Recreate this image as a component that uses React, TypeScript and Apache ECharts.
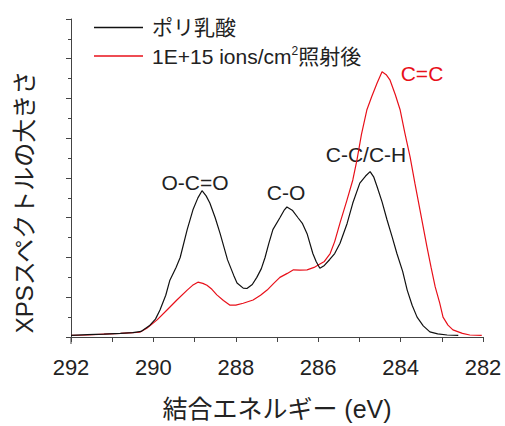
import React, { useEffect, useRef } from "react";
import * as echarts from "echarts";

const xTicks = [292, 290, 288, 286, 284, 282];

const blackEnergy = [
  292.0, 291.6, 291.2, 290.8, 290.5, 290.3, 290.1, 289.95, 289.84, 289.7, 289.6, 289.45, 289.35, 289.18,
  289.04, 288.92, 288.82, 288.72, 288.63, 288.5, 288.38, 288.2, 288.05, 287.97, 287.82, 287.73, 287.6,
  287.49, 287.38, 287.29, 287.2, 287.1, 286.93, 286.82, 286.76, 286.62, 286.49, 286.38, 286.27, 286.13,
  286.05, 285.96, 285.85, 285.72, 285.6, 285.47, 285.3, 285.16, 284.99, 284.85, 284.74, 284.65, 284.57,
  284.45, 284.33, 284.2, 284.09, 283.95, 283.84, 283.72, 283.6, 283.45, 283.29, 283.1, 282.87, 282.6,
];
const blackIntensity = [
  0.04, 0.06, 0.07, 0.09, 0.11, 0.14, 0.28, 0.45, 0.68, 1.05, 1.43, 1.75, 2.0, 2.7,
  3.2, 3.5, 3.68, 3.55, 3.37, 3.0, 2.6, 1.94, 1.55, 1.36, 1.23, 1.22, 1.32,
  1.5, 1.72, 2.0, 2.35, 2.7, 3.0, 3.2, 3.27, 3.18, 3.0, 2.85, 2.6, 2.1,
  1.9, 1.73, 1.8, 1.95, 2.1, 2.36, 2.85, 3.37, 3.87, 4.05, 4.16, 4.02, 3.78,
  3.4, 2.95, 2.5, 2.1, 1.65, 1.18, 0.8, 0.5, 0.28, 0.13, 0.08, 0.05, 0.04,
];

const redEnergy = [
  292.0, 291.6, 291.2, 290.8, 290.5, 290.33, 290.16, 289.91, 289.67, 289.43, 289.18, 289.05, 288.92,
  288.8, 288.7, 288.58, 288.46, 288.3, 288.14, 288.0, 287.82, 287.58, 287.4, 287.24, 287.08, 286.93,
  286.75, 286.6, 286.45, 286.27, 286.1, 286.0, 285.85, 285.71, 285.6, 285.47, 285.3, 285.16, 285.06,
  284.95, 284.82, 284.7, 284.57, 284.45, 284.35, 284.26, 284.13, 284.01, 283.9, 283.77, 283.65, 283.53,
  283.36, 283.26, 283.16, 283.05, 282.97, 282.85, 282.73, 282.5, 282.32, 282.03,
];
const redIntensity = [
  0.04, 0.05, 0.07, 0.09, 0.11, 0.12, 0.22, 0.43, 0.68, 0.93, 1.18, 1.3, 1.38,
  1.35, 1.3, 1.2, 1.06, 0.92, 0.8, 0.8, 0.85, 0.93, 1.05, 1.18, 1.35, 1.5,
  1.6, 1.69, 1.68, 1.69, 1.75, 1.81, 1.9, 2.1, 2.4, 2.87, 3.45, 3.95, 4.45,
  5.1, 5.71, 6.05, 6.39, 6.67, 6.6, 6.47, 6.1, 5.71, 5.15, 4.53, 3.85, 3.2,
  2.27, 1.75, 1.26, 0.85, 0.5, 0.3, 0.18, 0.09, 0.05, 0.04,
];

const seriesNames = ["ポリ乳酸", "1E+15 ions/cm2照射後"];
const peakLabels = ["O-C=O", "C-O", "C-C/C-H", "C=C"];

const FONT = "'Liberation Sans', 'Noto Sans CJK JP', sans-serif";
const BLACK = "#111111";
const RED = "#e8101a";
const AXIS = "#444444";

export default function App() {
  const ref = useRef<HTMLDivElement>(null);
  useEffect(() => {
    document.body.style.margin = "0";
    const chart = echarts.init(ref.current!, null, { renderer: "svg" });
    const zip = (xs: number[], ys: number[]) => xs.map((x, i) => [x, ys[i]]);
    chart.setOption({
      animation: false,
      backgroundColor: "#ffffff",
      textStyle: { fontFamily: FONT },
      grid: { left: 71, right: 22, top: 19, bottom: 89 },
      legend: {
        orient: "vertical",
        left: 89,
        top: 12,
        itemWidth: 49,
        itemHeight: 1.5,
        itemGap: 7,
        icon: "rect",
        data: seriesNames,
        textStyle: {
          fontFamily: FONT,
          fontSize: 21,
          color: "#222",
          padding: [0, 0, 0, 4],
          rich: {
            t: { fontFamily: FONT, fontSize: 21, color: "#222" },
            s: { fontFamily: FONT, fontSize: 12, color: "#222", padding: [0, 0, 10, 0] },
          },
        },
        formatter: (name: string) =>
          name === seriesNames[1] ? "{t|1E+15 ions/cm}{s|2}{t|照射後}" : name,
      },
      xAxis: {
        type: "value",
        min: xTicks[xTicks.length - 1],
        max: xTicks[0],
        interval: 2,
        inverse: true,
        offset: 7,
        name: "結合エネルギー (eV)",
        nameLocation: "middle",
        nameGap: 52,
        nameTextStyle: { fontFamily: FONT, fontSize: 25, color: "#222" },
        axisLine: { show: true, lineStyle: { color: AXIS, width: 1 } },
        axisTick: { show: true, inside: false, length: 5, lineStyle: { color: AXIS } },
        minorTick: { show: true, splitNumber: 2, length: 5, lineStyle: { color: AXIS } },
        splitLine: { show: false },
        minorSplitLine: { show: false },
        axisLabel: { fontFamily: FONT, fontSize: 22, color: "#222", margin: 12 },
      },
      yAxis: {
        type: "value",
        min: 0,
        max: 8,
        interval: 1,
        axisLine: { show: true, lineStyle: { color: AXIS, width: 1 } },
        axisTick: { show: true, inside: false, length: 5, lineStyle: { color: AXIS } },
        minorTick: { show: true, splitNumber: 2, length: 3, lineStyle: { color: AXIS } },
        splitLine: { show: false },
        minorSplitLine: { show: false },
        axisLabel: { show: false },
      },
      graphic: [
        {
          type: "line",
          shape: { x1: 71, y1: 337, x2: 71, y2: 344 },
          style: { stroke: AXIS, lineWidth: 1 },
        },
        {
          type: "text",
          x: 24,
          y: 202,
          rotation: Math.PI / 2,
          style: {
            text: "XPSスペクトルの大きさ",
            fontFamily: FONT,
            fontSize: 24,
            fill: "#222",
            align: "center",
            verticalAlign: "middle",
          },
        },
        {
          type: "text",
          x: 195,
          y: 182,
          style: { text: peakLabels[0], fontFamily: FONT, fontSize: 21, fill: "#222", align: "center", verticalAlign: "middle" },
        },
        {
          type: "text",
          x: 286,
          y: 192,
          style: { text: peakLabels[1], fontFamily: FONT, fontSize: 21, fill: "#222", align: "center", verticalAlign: "middle" },
        },
        {
          type: "text",
          x: 366,
          y: 154,
          style: { text: peakLabels[2], fontFamily: FONT, fontSize: 21, fill: "#222", align: "center", verticalAlign: "middle" },
        },
        {
          type: "text",
          x: 422,
          y: 73,
          style: { text: peakLabels[3], fontFamily: FONT, fontSize: 21, fill: RED, align: "center", verticalAlign: "middle" },
        },
      ],
      series: [
        {
          name: seriesNames[0],
          type: "line",
          data: zip(blackEnergy, blackIntensity),
          showSymbol: false,
          symbol: "none",
          lineStyle: { color: BLACK, width: 1.2 },
          itemStyle: { color: BLACK },
          z: 3,
        },
        {
          name: seriesNames[1],
          type: "line",
          data: zip(redEnergy, redIntensity),
          showSymbol: false,
          symbol: "none",
          lineStyle: { color: RED, width: 1.2 },
          itemStyle: { color: RED },
          z: 2,
        },
      ],
    });
    return () => chart.dispose();
  }, []);
  return <div ref={ref} style={{ width: 505, height: 426 }} />;
}
